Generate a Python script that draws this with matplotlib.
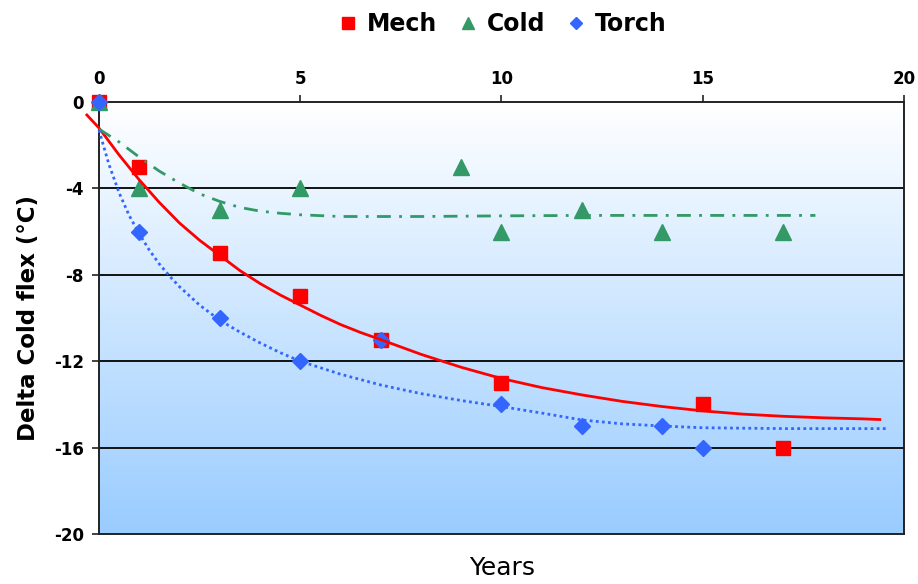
import matplotlib
matplotlib.use("Agg")
import matplotlib.pyplot as plt
import numpy as np
from matplotlib.colors import LinearSegmentedColormap

# ---- data ----
mech_x = [0, 1, 3, 5, 7, 10, 15, 17]
mech_y = [0, -3, -7, -9, -11, -13, -14, -16]
cold_x = [0, 1, 3, 5, 9, 10, 12, 14, 17]
cold_y = [0, -4, -5, -4, -3, -6, -5, -6, -6]
torch_x = [0, 1, 3, 5, 7, 10, 12, 14, 15]
torch_y = [0, -6, -10, -12, -11, -14, -15, -15, -16]

# trend lines, points
mech_tx = [-0.3, 0, 0.5, 1, 1.5, 2, 2.5, 3, 3.5, 4, 4.5, 5, 5.5, 6, 6.5, 7, 8, 9, 10, 11, 12,
           13, 14, 15, 16, 17, 18, 19, 19.4]
mech_ty = [-0.6, -1.2, -2.45, -3.6, -4.65, -5.6, -6.4, -7.1, -7.8, -8.4, -8.93, -9.4, -9.87,
           -10.3, -10.67, -11.0, -11.68, -12.28, -12.8, -13.22, -13.56, -13.86, -14.1, -14.3,
           -14.45, -14.55, -14.62, -14.67, -14.7]
cold_tx = [0, 0.5, 1, 1.5, 2, 2.5, 3, 3.5, 4, 4.5, 5, 6, 8, 10, 12, 14, 16, 17.8]
cold_ty = [-1.25, -1.85, -2.55, -3.2, -3.75, -4.25, -4.6, -4.88, -5.05, -5.15, -5.22, -5.3,
           -5.3, -5.27, -5.25, -5.25, -5.25, -5.25]
torch_tx = [0, 0.25, 0.5, 0.75, 1, 1.25, 1.5, 1.75, 2, 2.5, 3, 3.5, 4, 4.5, 5, 6, 7, 8, 9,
            10, 11, 12, 13, 14, 15, 16, 17, 18, 19, 19.6]
torch_ty = [-1.3, -2.9, -4.2, -5.25, -6.1, -6.85, -7.5, -8.05, -8.55, -9.4, -10.1, -10.65,
            -11.15, -11.6, -12.0, -12.6, -13.1, -13.5, -13.82, -14.1, -14.4, -14.72, -14.9,
            -15.0, -15.08, -15.1, -15.12, -15.12, -15.12, -15.12]

x_ticks = [0, 5, 10, 15, 20]
y_ticks = [0, -4, -8, -12, -16, -20]

RED = "#FF0000"
GREEN = "#339966"
BLUE = "#3366FF"

plt.rcParams['font.family'] = ['DejaVu Sans']
fig = plt.figure(figsize=(9.18, 5.84), dpi=100)
ax = fig.add_axes([0.1078, 0.0856, 0.8769, 0.7397])

# gradient background: white at top, light blue at bottom
cmap = LinearSegmentedColormap.from_list("bg", ["#FFFFFF", "#99CCFF"])
grad = np.linspace(0, 1, 256).reshape(-1, 1)
ax.imshow(grad, extent=[0, 20, -20, 0], aspect='auto', cmap=cmap, origin='upper', zorder=0)

ax.set_xlim(0, 20)
ax.set_ylim(-20, 0)

for yv in y_ticks[1:-1]:
    ax.axhline(yv, color="#111111", lw=1.4, zorder=1)

ax.plot(mech_x, mech_y, ls='none', marker='s', ms=10, color=RED, label='Mech', zorder=4, clip_on=False)
ax.plot(cold_x, cold_y, ls='none', marker='^', ms=11, color=GREEN, label='Cold', zorder=4, clip_on=False)
ax.plot(torch_x, torch_y, ls='none', marker='D', ms=8, color=BLUE, label='Torch', zorder=4, clip_on=False)

ax.plot(mech_tx, mech_ty, color=RED, lw=2.0, ls='-', zorder=5, clip_on=False)
ax.plot(cold_tx, cold_ty, color=GREEN, lw=2.0, ls=(0, (5, 3, 1, 3)), zorder=5, clip_on=False)
ax.plot(torch_tx, torch_ty, color=BLUE, lw=2.0, ls=(0, (1, 1.2)), zorder=5, clip_on=False)

ax.xaxis.tick_top()
ax.set_xticks(x_ticks)
ax.set_yticks(y_ticks)
ax.set_xticklabels([str(v) for v in x_ticks], fontsize=12, fontweight='bold')
ax.set_yticklabels([str(v) for v in y_ticks], fontsize=12, fontweight='bold')
ax.tick_params(axis='x', direction='out', length=5, width=1.2, color="#222222", pad=5)
ax.tick_params(axis='y', direction='out', length=5, width=1.2, color="#222222", pad=6)
for s in ax.spines.values():
    s.set_color("#222222")
    s.set_linewidth(1.4)

ax.set_ylabel("Delta Cold flex (°C)", fontsize=16.5, fontweight='bold', labelpad=10)
fig.text(0.547, 0.027, "Years", fontsize=18, ha='center', va='center')

fig.legend(loc='upper center', bbox_to_anchor=(0.546, 1.015), ncol=3, frameon=False,
           prop={'size': 17, 'weight': 'bold'}, handletextpad=0.3, columnspacing=0.8,
           handlelength=1.0, markerscale=0.8)

fig.savefig("out.png", dpi=100)
